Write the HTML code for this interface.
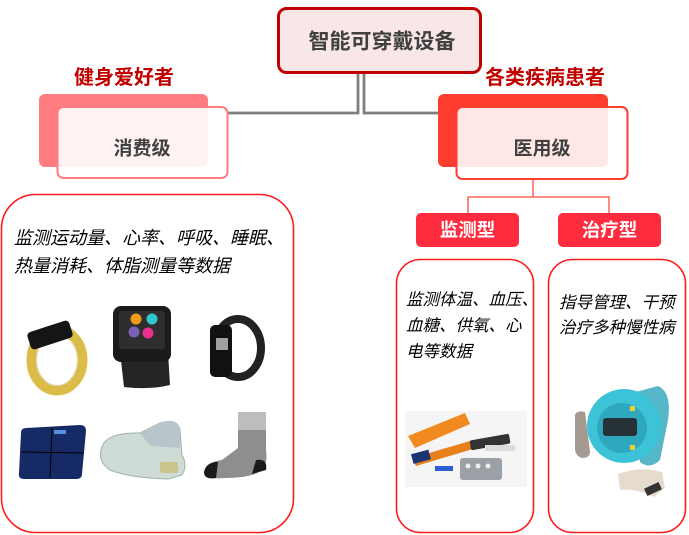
<!DOCTYPE html>
<html><head><meta charset="utf-8"><style>
html,body{margin:0;padding:0;background:#fff;}
svg{display:block;}
text{font-family:"Liberation Sans","Noto Sans CJK SC",sans-serif;}
.b{font-weight:bold;}
.it{font-style:italic;fill:#000;}
</style></head><body>
<svg width="689" height="535" viewBox="0 0 689 535" xmlns="http://www.w3.org/2000/svg">
<!-- gray connectors -->
<polyline points="358,72 358,113 226,113" fill="none" stroke="#7f7f7f" stroke-width="2.8"/>
<polyline points="364,72 364,113 440,113" fill="none" stroke="#7f7f7f" stroke-width="2.8"/>
<!-- top box -->
<rect x="278.5" y="8.5" width="202" height="64" rx="8" fill="#f9e6e6" stroke="#c00000" stroke-width="3"/>
<text x="382" y="42" class="b" font-size="21" fill="#404040" text-anchor="middle" dominant-baseline="central">智能可穿戴设备</text>

<!-- labels -->
<text x="124" y="78" class="b" font-size="20" fill="#c00000" text-anchor="middle" dominant-baseline="central">健身爱好者</text>
<text x="545" y="78" class="b" font-size="20" fill="#c00000" text-anchor="middle" dominant-baseline="central">各类疾病患者</text>

<!-- consumer -->
<rect x="39" y="94" width="169" height="73" rx="6" fill="#ff7c80"/>
<rect x="57.5" y="107" width="170" height="71" rx="6" fill="#ffffff" fill-opacity="0.9" stroke="#ff7c80" stroke-width="2"/>
<text x="142" y="149" class="b" font-size="19" fill="#404040" text-anchor="middle" dominant-baseline="central">消费级</text>

<!-- medical -->
<rect x="438" y="94" width="170" height="73" rx="6" fill="#ff3d2e"/>
<rect x="456.5" y="107" width="171" height="72" rx="6" fill="#ffffff" fill-opacity="0.88" stroke="#ff3d2e" stroke-width="2"/>
<text x="542" y="149" class="b" font-size="19" fill="#404040" text-anchor="middle" dominant-baseline="central">医用级</text>

<!-- red connectors -->
<polyline points="533,179 533,197" fill="none" stroke="#ff4a3a" stroke-width="1.3"/>
<polyline points="468,213 468,197 609,197 609,213" fill="none" stroke="#ff4a3a" stroke-width="1.3"/>

<!-- buttons -->
<rect x="416" y="213" width="103" height="34" rx="5" fill="#ff2b3e"/>
<text x="467.5" y="230" class="b" font-size="18.5" fill="#fff" text-anchor="middle" dominant-baseline="central">监测型</text>
<rect x="558" y="213" width="103" height="34" rx="5" fill="#ff2b3e"/>
<text x="609.5" y="230" class="b" font-size="18.5" fill="#fff" text-anchor="middle" dominant-baseline="central">治疗型</text>

<!-- big boxes -->
<rect x="1.5" y="194.5" width="292" height="338" rx="34" fill="none" stroke="#ff1a1a" stroke-width="1.6"/>
<rect x="396.5" y="259.5" width="137" height="273" rx="24" fill="none" stroke="#ff1a1a" stroke-width="1.6"/>
<rect x="548.5" y="259.5" width="137" height="273" rx="24" fill="none" stroke="#ff1a1a" stroke-width="1.6"/>

<!-- texts -->
<text x="14" y="238" class="it" font-size="18" dominant-baseline="central">监测运动量、心率、呼吸、睡眠、</text>
<text x="14" y="266" class="it" font-size="18" dominant-baseline="central">热量消耗、体脂测量等数据</text>
<text x="406" y="300" class="it" font-size="16.5" dominant-baseline="central">监测体温、血压、</text>
<text x="406" y="326" class="it" font-size="16.5" dominant-baseline="central">血糖、供氧、心</text>
<text x="406" y="352" class="it" font-size="16.5" dominant-baseline="central">电等数据</text>
<text x="559" y="303" class="it" font-size="16.5" dominant-baseline="central">指导管理、干预</text>
<text x="559" y="328" class="it" font-size="16.5" dominant-baseline="central">治疗多种慢性病</text>

<!-- yellow band -->
<ellipse cx="57" cy="360" rx="26" ry="31" fill="none" stroke="#dcbc48" stroke-width="9"/>
<ellipse cx="57" cy="360" rx="21" ry="26" fill="none" stroke="#c9a430" stroke-width="2" opacity="0.5"/>
<rect x="28" y="326" width="44" height="18" rx="4" fill="#151515" transform="rotate(-18 50 335)"/>
<!-- smartwatch -->
<path d="M120,352 L168,352 L170,385 Q150,390 124,387 Z" fill="#252525"/>
<rect x="113" y="306" width="58" height="56" rx="8" fill="#1b1b1b"/>
<rect x="119" y="311" width="46" height="38" rx="3" fill="#2e2e2e"/>
<circle cx="136" cy="319" r="5.5" fill="#f39a1c"/>
<circle cx="152" cy="319" r="5.5" fill="#2cc7cf"/>
<circle cx="134" cy="332" r="5.5" fill="#7a60b8"/>
<circle cx="148" cy="333" r="5.5" fill="#e8308c"/>
<!-- black band -->
<ellipse cx="238" cy="348" rx="23" ry="29" fill="none" stroke="#222" stroke-width="8"/>
<rect x="210" y="325" width="22" height="52" rx="5" fill="#111"/>
<rect x="216" y="338" width="12" height="12" fill="#ddd" opacity="0.7"/>
<!-- scale -->
<path d="M26,428 L80,425 Q86,425 86,431 L82,474 Q82,479 76,479 L24,479 Q18,479 19,473 L21,433 Q21,428 26,428 Z" fill="#162a66"/>
<line x1="22" y1="452" x2="84" y2="453" stroke="#000" stroke-width="1"/>
<line x1="52" y1="428" x2="50" y2="478" stroke="#000" stroke-width="1"/>
<rect x="54" y="430" width="12" height="4" fill="#5a8fe0"/>
<!-- shoe -->
<path d="M101,450 Q104,432 140,433 L160,423 Q178,418 180,430 L182,455 Q188,465 182,475 L168,479 Q130,478 110,470 Q98,462 101,450 Z" fill="#cfdcd6" stroke="#9fb3aa" stroke-width="1"/>
<rect x="160" y="462" width="18" height="11" rx="2" fill="#c9c48a"/>
<path d="M140,433 L160,423 Q178,418 180,430 L180,448 L150,446 Z" fill="#b8c6cc"/>
<!-- sock -->
<path d="M238,412 L266,412 L266,450 Q268,463 262,470 Q252,478 225,478 Q205,480 204,472 Q206,462 222,460 L238,448 Z" fill="#8e8e8e"/>
<rect x="238" y="412" width="28" height="18" fill="#bdbdbd"/>
<path d="M204,472 Q206,462 218,462 L216,478 Q204,480 204,472 Z" fill="#1a1a1a"/>
<path d="M256,460 Q268,458 266,470 L252,474 Z" fill="#1a1a1a"/>

<!-- medical kit -->
<rect x="405" y="411" width="122" height="76" fill="#f5f5f5"/>
<path d="M408,436 L465,413 L470,424 L415,448 Z" fill="#f08a1e"/>
<path d="M412,458 L470,441 L473,449 L416,466 Z" fill="#e8801e"/>
<rect x="412" y="452" width="18" height="10" fill="#1c3570" transform="rotate(-15 420 457)"/>
<rect x="470" y="437" width="40" height="10" rx="2" fill="#333" transform="rotate(-10 490 442)"/>
<rect x="460" y="458" width="42" height="22" rx="3" fill="#9aa0a5"/>
<circle cx="468" cy="466" r="2.5" fill="#eee"/><circle cx="478" cy="466" r="2.5" fill="#eee"/><circle cx="488" cy="466" r="2.5" fill="#eee"/>
<rect x="435" y="466" width="18" height="5" fill="#2a5fd0"/>
<rect x="485" y="445" width="30" height="6" fill="#dcdcdc"/>

<!-- treatment watch -->
<path d="M575,415 Q577,410 585,412 L590,452 Q590,458 582,458 Q576,456 575,450 Z" fill="#a49a92"/>
<path d="M618,474 Q640,466 662,472 L665,488 L654,497 Q635,488 620,490 Z" fill="#e6dccd"/>
<rect x="645" y="485" width="16" height="8" fill="#333" transform="rotate(-25 653 489)"/>
<path d="M632,393 L658,386 Q672,392 668,420 L660,460 Q650,470 640,462 Z" fill="#56b7c8"/>
<circle cx="624" cy="426" r="37" fill="#3cc3d8"/>
<circle cx="622" cy="428" r="25" fill="#2fa8bd"/>
<rect x="603" y="418" width="34" height="18" rx="3" fill="#263238"/>
<rect x="630" y="406" width="5" height="5" fill="#e8d23a"/>
<rect x="630" y="445" width="5" height="5" fill="#e8d23a"/>
</svg>
</body></html>
